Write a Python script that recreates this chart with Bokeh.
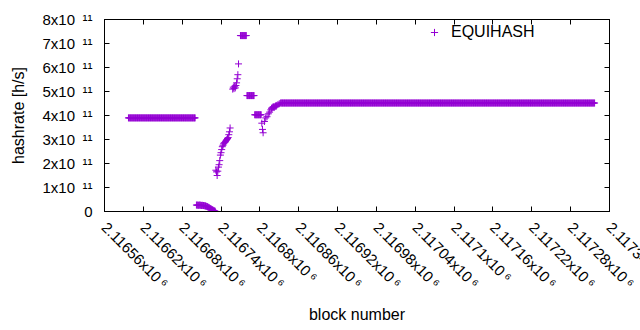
import numpy as np
from bokeh.plotting import figure
from bokeh.models import FixedTicker, LinearAxis, Range1d, Legend, LegendItem, ColumnDataSource
from bokeh.embed import file_html
from bokeh.resources import INLINE

# ---- tick positions / labels ----
x_ticks = [2116560, 2116620, 2116680, 2116740, 2116800, 2116860, 2116920,
           2116980, 2117040, 2117100, 2117160, 2117220, 2117280, 2117340]
x_tick_labels = ["2.11656x10\u2009\u2076", "2.11662x10\u2009\u2076", "2.11668x10\u2009\u2076",
                 "2.11674x10\u2009\u2076", "2.1168x10\u2009\u2076", "2.11686x10\u2009\u2076",
                 "2.11692x10\u2009\u2076", "2.11698x10\u2009\u2076", "2.11704x10\u2009\u2076",
                 "2.1171x10\u2009\u2076", "2.11716x10\u2009\u2076", "2.11722x10\u2009\u2076",
                 "2.11728x10\u2009\u2076", "2.11734x10\u2009\u2076"]
y_ticks = [0, 1e11, 2e11, 3e11, 4e11, 5e11, 6e11, 7e11, 8e11]
y_tick_labels = ["0", "1x10\u2002\u00b9\u00b9", "2x10\u2002\u00b9\u00b9", "3x10\u2002\u00b9\u00b9",
                 "4x10\u2002\u00b9\u00b9", "5x10\u2002\u00b9\u00b9", "6x10\u2002\u00b9\u00b9",
                 "7x10\u2002\u00b9\u00b9", "8x10\u2002\u00b9\u00b9"]

# ---- data: flat runs (one point per block, constant hashrate) ----
run_start = [2116597, 2116770, 2116780, 2116792, 2116832]
run_end   = [2116700, 2116779, 2116791, 2116802, 2117317]
run_value = [3.90e11, 7.33e11, 4.83e11, 4.03e11, 4.52e11]

# ---- data: individual blocks ----
low_blocks = list(range(2116702, 2116732))
low_values = [2.7e10, 2.6e10, 2.7e10, 2.6e10, 2.6e10, 2.7e10, 2.6e10, 2.6e10, 2.5e10, 2.6e10,
              2.5e10, 2.5e10, 2.4e10, 2.4e10, 2.3e10, 2.2e10, 2.1e10, 2.0e10, 1.8e10, 1.7e10,
              1.5e10, 1.3e10, 1.2e10, 1.0e10, 0.8e10, 0.7e10, 0.5e10, 0.4e10, 0.2e10, 0.1e10]

rise_blocks = list(range(2116732, 2116755))
rise_values = [1.72e11, 1.65e11, 1.50e11, 1.68e11, 1.85e11, 1.95e11, 2.12e11, 2.35e11, 2.45e11,
               2.58e11, 2.70e11, 2.76e11, 2.82e11, 2.86e11, 2.88e11, 2.92e11, 2.96e11, 3.00e11,
               3.04e11, 3.08e11, 3.20e11, 3.32e11, 3.48e11]

peak_blocks = [2116758, 2116759, 2116760, 2116761, 2116762, 2116763,
               2116764, 2116765, 2116766, 2116767]
peak_values = [5.10e11, 5.18e11, 5.12e11, 5.22e11, 5.15e11, 5.25e11,
               5.36e11, 5.53e11, 5.70e11, 6.15e11]

dip_blocks = [2116803, 2116804, 2116805, 2116807, 2116809, 2116811, 2116813, 2116815,
              2116817, 2116818, 2116819, 2116820, 2116821, 2116822, 2116823, 2116824,
              2116825, 2116826, 2116828, 2116830]
dip_values = [3.68e11, 3.42e11, 3.28e11, 3.75e11, 3.90e11, 3.95e11, 4.07e11, 4.14e11,
              4.24e11, 4.30e11, 4.32e11, 4.35e11, 4.36e11, 4.33e11, 4.37e11, 4.40e11,
              4.38e11, 4.42e11, 4.46e11, 4.49e11]

xs, ys = [], []
for s, e, v in zip(run_start, run_end, run_value):
    blk = np.arange(s, e + 1)
    xs.extend(blk.tolist())
    ys.extend([v] * len(blk))
for b, v in [(low_blocks, low_values), (rise_blocks, rise_values),
             (peak_blocks, peak_values), (dip_blocks, dip_values)]:
    xs.extend(b)
    ys.extend(v)
order = np.argsort(xs)
src = ColumnDataSource(dict(block=np.array(xs)[order], hashrate=np.array(ys)[order]))

FONT = "Liberation Sans"
COLOR = "#9400D3"

p = figure(width=640, height=330, output_backend="svg", toolbar_location=None,
           x_range=Range1d(2116560, 2117340), y_range=Range1d(0, 8e11),
           min_border_left=104, min_border_right=31, min_border_top=19, min_border_bottom=119)
p.xgrid.visible = False
p.ygrid.visible = False
p.outline_line_color = "black"
p.outline_line_alpha = 1.0
p.background_fill_color = "white"
p.border_fill_color = "white"

r = p.scatter("block", "hashrate", source=src, marker="cross", size=7,
              line_color=COLOR, line_width=1)

for ax in (p.xaxis[0], p.yaxis[0]):
    ax.major_tick_in = 5
    ax.major_tick_out = 0
    ax.minor_tick_in = 0
    ax.minor_tick_out = 0
    ax.axis_line_color = "black"
    ax.major_tick_line_color = "black"
    ax.major_label_text_font = FONT
    ax.major_label_text_font_size = "15px"
    ax.major_label_text_color = "black"
    ax.axis_label_text_font = FONT
    ax.axis_label_text_font_size = "16px"
    ax.axis_label_text_font_style = "normal"
    ax.axis_label_text_color = "black"

# an extra unlabeled tick at the right end keeps the last real label from being
# pulled back inside the canvas (it is cut by the window edge, as in the original)
end_marker = x_ticks[-1] - 0.01
p.xaxis.ticker = FixedTicker(ticks=x_ticks + [end_marker])
overrides = dict(zip(x_ticks, x_tick_labels))
overrides[end_marker] = ""
p.xaxis.major_label_overrides = overrides
p.xaxis.major_label_orientation = -np.pi / 4
p.xaxis.major_label_standoff = 13
p.xaxis.axis_label = "block number"
p.xaxis.axis_label_standoff = 5

p.yaxis.ticker = FixedTicker(ticks=y_ticks)
p.yaxis.major_label_overrides = dict(zip(y_ticks, y_tick_labels))
p.yaxis.major_label_standoff = 12
p.yaxis.axis_label = "hashrate [h/s]"
p.yaxis.axis_label_standoff = 12

# mirrored ticks on top and right
for side, ticks in (("above", x_ticks), ("right", y_ticks)):
    ax = LinearAxis(ticker=FixedTicker(ticks=ticks), major_tick_in=5, major_tick_out=0,
                    minor_tick_in=0, minor_tick_out=0,
                    major_label_overrides={t: "" for t in ticks},
                    major_label_standoff=0, axis_line_color="black")
    p.add_layout(ax, side)

legend = Legend(items=[LegendItem(label="EQUIHASH", renderers=[r])],
                location="top_right", label_text_font=FONT, label_text_font_size="16px",
                label_text_color="black", glyph_width=18, glyph_height=18,
                label_standoff=8, label_width=154, padding=4, margin=0,
                border_line_alpha=0, background_fill_alpha=0)
p.add_layout(legend, "center")

open("out.html", "w").write(file_html(p, INLINE))
